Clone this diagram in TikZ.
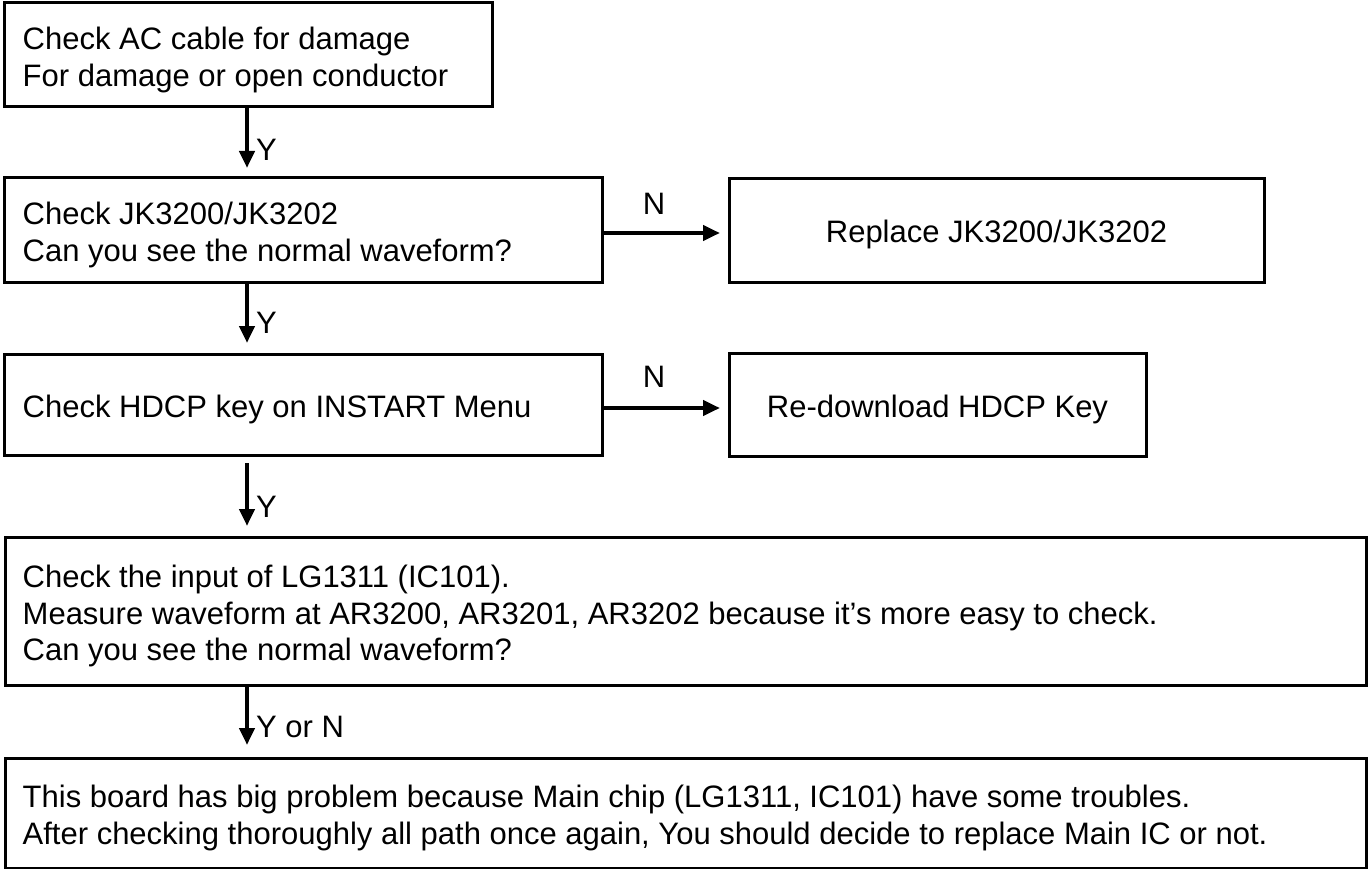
\documentclass[tikz,border=0pt]{standalone}
\usepackage{fontspec}
\setmainfont{Liberation Sans}
\usetikzlibrary{arrows.meta}
\begin{document}
\begin{tikzpicture}[x=1pt,y=-1pt,
  every node/.style={font=\fontsize{31}{36.5}\selectfont},
  box/.style={draw=black, line width=3pt, rectangle, inner sep=0pt},
  txt/.style={inner sep=0pt, align=left, anchor=west},
  ctxt/.style={inner sep=0pt, align=center},
  arr/.style={line width=4.5pt, -{Triangle[length=17pt,width=15pt]}},
  lbl/.style={inner sep=0pt}
]
\useasboundingbox (0,0) rectangle (1368,869);

\node[box, minimum width=488pt, minimum height=104pt] (b1) at (248,55) {};
\node[txt] (b1t) at ([xshift=20pt,yshift=-5pt]b1.west)
  {Check AC cable for damage\\For damage or open conductor};
\node[box, minimum width=598pt, minimum height=104pt] (b2) at (303,230) {};
\node[txt] (b2t) at ([xshift=20pt,yshift=-5pt]b2.west)
  {Check JK3200/JK3202\\Can you see the normal waveform?};
\node[box, minimum width=535pt, minimum height=103pt] (b3) at (996.5,230.5) {};
\node[ctxt] (b3t) at ([yshift=-4pt]b3.center) {Replace JK3200/JK3202};
\node[box, minimum width=598pt, minimum height=101pt] (b4) at (303,404.5) {};
\node[txt] (b4t) at ([xshift=20pt,yshift=-5pt]b4.west) {Check HDCP key on INSTART Menu};
\node[box, minimum width=417pt, minimum height=103pt] (b5) at (937.5,404.5) {};
\node[ctxt] (b5t) at ([yshift=-5pt]b5.center) {Re-download HDCP Key};
\node[box, minimum width=1361pt, minimum height=148pt] (b6) at (685.5,611) {};
\node[txt] (b6t) at ([xshift=19pt,yshift=-5pt]b6.west)
  {Check the input of LG1311 (IC101).\\Measure waveform at AR3200, AR3201, AR3202 because it’s more easy to check.\\Can you see the normal waveform?};
\node[box, minimum width=1361pt, minimum height=110pt] (b7) at (685.5,813) {};
\node[txt] (b7t) at ([xshift=19pt,yshift=-5pt]b7.west)
  {This board has big problem because Main chip (LG1311, IC101) have some troubles.\\After checking thoroughly all path once again, You should decide to replace Main IC or not.};

% vertical connectors
\coordinate (t1) at (247,168);
\coordinate (t2) at (247,343);
\coordinate (s3) at (247,463);
\coordinate (t3) at (247,526);
\coordinate (t4) at (247,745);
\draw[arr] (t1 |- b1.south) -- (t1);
\draw[arr] (t2 |- b2.south) -- (t2);
\draw[arr] (s3) -- (t3);
\draw[arr] (t4 |- b6.south) -- (t4);
\node[lbl, anchor=west] (y1) at (256,150) {Y};
\node[lbl, anchor=west] (y2) at (256,323) {Y};
\node[lbl, anchor=west] (y3) at (256,507) {Y};
\node[lbl, anchor=west] (y4) at (256,727) {Y or N};

% horizontal connectors
\coordinate (h1) at (720,233);
\coordinate (h2) at (720,408);
\draw[arr] (h1 -| b2.east) -- (h1);
\draw[arr] (h2 -| b4.east) -- (h2);
\node[lbl] (n1) at (654,204) {N};
\node[lbl] (n2) at (654,377) {N};
\end{tikzpicture}
\end{document}
